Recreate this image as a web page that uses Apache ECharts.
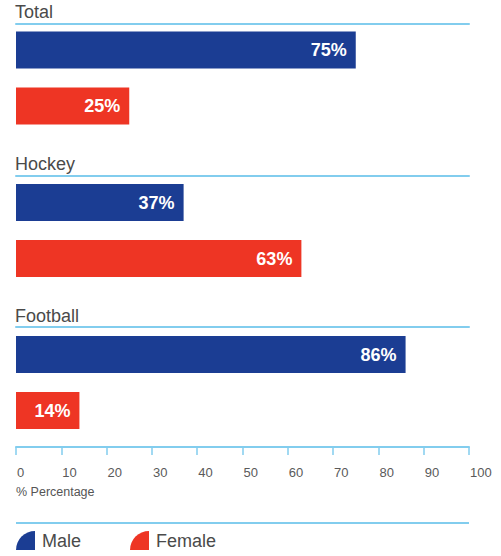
<!DOCTYPE html>
<html>
<head>
<meta charset="utf-8">
<script src="https://cdn.jsdelivr.net/npm/echarts@6/dist/echarts.min.js"></script>
<style>
  html, body { margin:0; padding:0; background:#fff; }
  #chart { width:501px; height:556px; }
</style>
</head>
<body>
<div id="chart"></div>
<script>
// ===== data =====
const sports      = ['Total', 'Hockey', 'Football'];
const genders     = ['Male', 'Female'];
const maleShare   = [75, 37, 86];
const femaleShare = [25, 63, 14];
const axisTitle   = '% Percentage';

// ===== look =====
const BLUE  = '#1b3d93';
const RED   = '#ee3524';
const RULE  = '#82cdee';
const TEXT  = '#4a4a4a';
const FONT  = '"Liberation Sans", Arial, sans-serif';

// one block per sport (grid tops / rule offsets picked by eye)
const gridTops    = [22, 174.5, 326.5];
const ruleOffsets = [-2, -1.5, -0.5];
const titleTops   = [3, 155, 307];

const chart = echarts.init(document.getElementById('chart'), null, { renderer:'svg' });

const grids = [], xAxes = [], yAxes = [], series = [], titles = [];

sports.forEach((name, i) => {
  grids.push({ left:16, right:32, top:gridTops[i], height:112 });

  // light blue rule above each block
  xAxes.push({
    type:'value', gridIndex:i, position:'top', min:0, max:100, offset:ruleOffsets[i],
    axisLine:{ show:true, lineStyle:{ color:RULE, width:2 } },
    axisTick:{ show:false }, axisLabel:{ show:false }, splitLine:{ show:false }
  });

  yAxes.push({ type:'category', gridIndex:i, data:genders, inverse:true, show:false });

  titles.push({
    text:name, left:15, top:titleTops[i], padding:0,
    textStyle:{ color:TEXT, fontSize:18, fontWeight:'normal', fontFamily:FONT }
  });

  const label = {
    show:true, position:'insideRight', distance:9, formatter:'{c}%',
    color:'#fff', fontSize:18, fontWeight:'bold', fontFamily:FONT
  };
  series.push({
    name:'Male', type:'bar', xAxisIndex:i, yAxisIndex:i, barWidth:37, barGap:'-100%',
    itemStyle:{ color:BLUE }, label, data:[maleShare[i], '-']
  });
  series.push({
    name:'Female', type:'bar', xAxisIndex:i, yAxisIndex:i, barWidth:37, barGap:'-100%',
    itemStyle:{ color:RED }, label, data:['-', femaleShare[i]]
  });
});

// bottom scale (on last block) - labels sit just right of their tick
xAxes.push({
  type:'value', gridIndex:2, position:'bottom', min:0, max:100, interval:10, offset:8.5,
  axisLine:{ show:true, lineStyle:{ color:RULE, width:2 } },
  axisTick:{ show:true, length:8, lineStyle:{ color:RULE, width:1.5 } },
  axisLabel:{ color:'#5a5a5a', fontSize:13, margin:19, fontFamily:FONT, align:'left', padding:[0,0,0,1] },
  splitLine:{ show:false }
});

titles.push({
  text:axisTitle, left:16, top:485, padding:0,
  textStyle:{ color:'#555', fontSize:12.5, fontWeight:'normal', fontFamily:FONT }
});

const quarter = 'path://M0,20 A20,20 0 0 1 20,0 L20,20 Z';
const legendBase = {
  top:531, itemWidth:19, itemHeight:22, itemGap:20, padding:0, icon:quarter,
  textStyle:{ color:TEXT, fontSize:18, fontFamily:FONT, padding:[0,0,0,2] }
};

chart.setOption({
  animation:false,
  title:titles,
  grid:grids,
  xAxis:xAxes,
  yAxis:yAxes,
  legend:[
    Object.assign({ left:16,  data:['Male'] }, legendBase),
    Object.assign({ left:130, data:['Female'] }, legendBase)
  ],
  graphic:[{
    type:'line', shape:{ x1:16, y1:523, x2:469, y2:523 },
    style:{ stroke:RULE, lineWidth:2 }
  }],
  series
});
</script>
</body>
</html>
